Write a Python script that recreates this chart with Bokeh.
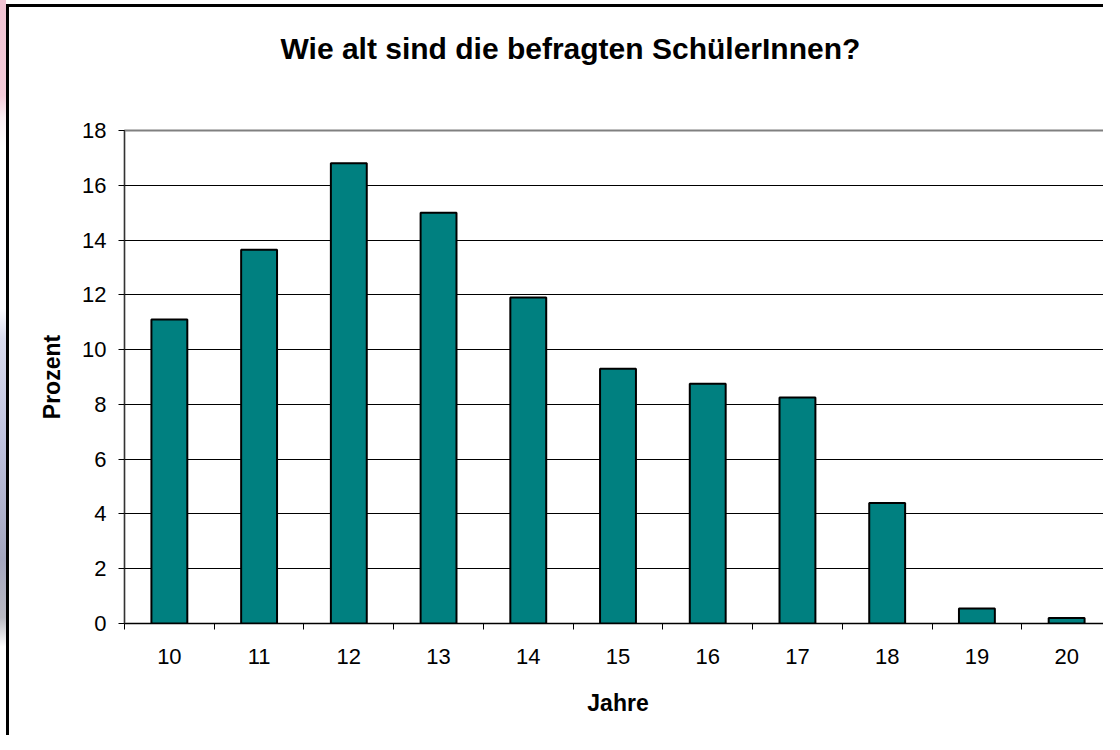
from bokeh.plotting import figure
from bokeh.models import ColumnDataSource, Range1d, FixedTicker, Title
from bokeh.embed import file_html
from bokeh.resources import INLINE

# Data
ages = [10, 11, 12, 13, 14, 15, 16, 17, 18, 19, 20]
percent = [11.1, 13.65, 16.8, 15.0, 11.9, 9.3, 8.75, 8.25, 4.4, 0.55, 0.2]
y_ticks = [0, 2, 4, 6, 8, 10, 12, 14, 16, 18]
title_text = "Wie alt sind die befragten SchülerInnen?"
x_label = "Jahre"
y_label = "Prozent"

FONT = "Liberation Sans"

source = ColumnDataSource(dict(age=ages, pct=percent))

p = figure(
    width=1103, height=735,
    x_range=Range1d(ages[0] - 0.5, ages[-1] + 0.5),
    y_range=Range1d(y_ticks[0], y_ticks[-1]),
    output_backend="svg", toolbar_location=None,
    min_border_left=115, min_border_right=1,
    min_border_top=123, min_border_bottom=119,
)
strip = ("linear-gradient(to bottom, #f1c3d3 0%, #f5cbd9 13%, #fbeef3 16%, #ffffff 20%, "
         "#fbfbfe 42%, #d9dbee 46%, #bfc2de 60%, #a4a6bf 76%, #b9b9c2 84%, #ffffff 88%, #ffffff 100%)")
p.styles = {
    "border-left": "9px solid transparent",
    "border-top": "7px solid transparent",
    "margin-right": "-8px",
    "margin-bottom": "-8px",
    "background": ("linear-gradient(#000,#000) 6px 4px / 100% 3px no-repeat border-box, "
                   "linear-gradient(#000,#000) 6px 4px / 3px 100% no-repeat border-box, "
                   + strip + " 0 0 / 6px 100% no-repeat border-box, #ffffff"),
}
p.background_fill_color = "white"
p.border_fill_color = "white"
p.outline_line_color = "#808080"
p.outline_line_width = 2

# spacer between title and plot frame
p.add_layout(Title(text=" ", text_font_size="10px", standoff=53), "above")
p.add_layout(Title(text=title_text, align="left", offset=156, standoff=0,
                   text_font=FONT, text_font_style="bold", text_font_size="30px",
                   text_color="black"), "above")

p.vbar(x="age", top="pct", width=0.4, source=source,
       fill_color="#008080", line_color="black", line_width=2)

# X axis
xa = p.xaxis[0]
xa.ticker = FixedTicker(ticks=ages, minor_ticks=[a - 0.5 for a in ages] + [ages[-1] + 0.5])
xa.major_tick_out = 0
xa.major_tick_in = 0
xa.minor_tick_out = 6
xa.minor_tick_in = 0
xa.minor_tick_line_color = "black"
xa.axis_line_color = "black"
xa.axis_line_width = 1
xa.major_label_text_font = FONT
xa.major_label_text_font_size = "22px"
xa.major_label_text_color = "black"
xa.major_label_standoff = 19
xa.axis_label = x_label
xa.axis_label_text_font = FONT
xa.axis_label_text_font_style = "bold"
xa.axis_label_text_font_size = "23px"
xa.axis_label_text_color = "black"
xa.axis_label_standoff = 23

# Y axis
ya = p.yaxis[0]
ya.ticker = FixedTicker(ticks=y_ticks, minor_ticks=[])
ya.major_tick_out = 6
ya.major_tick_in = 0
ya.major_tick_line_color = "black"
ya.axis_line_color = "#333333"
ya.axis_line_width = 1
ya.major_label_text_font = FONT
ya.major_label_text_font_size = "22px"
ya.major_label_text_color = "black"
ya.major_label_standoff = 12
ya.axis_label = y_label
ya.axis_label_text_font = FONT
ya.axis_label_text_font_style = "bold"
ya.axis_label_text_font_size = "23px"
ya.axis_label_text_color = "black"
ya.axis_label_standoff = 14

p.xgrid.grid_line_color = None
p.ygrid.grid_line_color = "black"
p.ygrid.grid_line_width = 1

open("out.html", "w").write(file_html(p, INLINE))
